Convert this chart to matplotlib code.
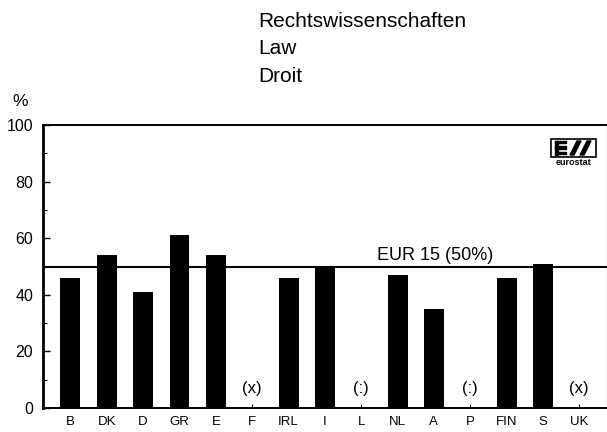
import numpy as np
import matplotlib
matplotlib.use("Agg")
import matplotlib.pyplot as plt
from matplotlib.patches import Rectangle, Polygon

plt.rcParams['font.family'] = ['Liberation Sans', 'DejaVu Sans']

# Data: share (%) per country; None = not available / not applicable
countries = ["B", "DK", "D", "GR", "E", "F", "IRL", "I", "L", "NL", "A", "P", "FIN", "S", "UK"]
values = [46, 54, 41, 61, 54, None, 46, 50, None, 47, 35, None, 46, 51, None]
flags = {"F": "(x)", "L": "(:)", "P": "(:)", "UK": "(x)"}
eu_average = 50
eu_label = "EUR 15 (50%)"
title_lines = ["Rechtswissenschaften", "Law", "Droit"]
y_ticks = [0, 20, 40, 60, 80, 100]

W, H = 607, 432
fig = plt.figure(figsize=(W / 100, H / 100), dpi=100)
ax = fig.add_axes([43 / W, 24 / H, 563.5 / W, 283 / H])

x = np.arange(len(countries))
heights = np.array([np.nan if v is None else v for v in values], dtype=float)
ax.bar(x, heights, width=0.55, color="black", zorder=2)

# EU average reference line
ax.axhline(eu_average, color="black", lw=1.5, zorder=3)
ax.text(8.43, eu_average + 2.2, eu_label, fontsize=13, ha="left", va="baseline")

# Flags for missing values
for i, c in enumerate(countries):
    if c in flags:
        ax.text(i, 7.0, flags[c], fontsize=12, ha="center", va="center")

ax.set_xlim(-0.756, 14.75)
ax.set_ylim(0, 100)
ax.set_xticks(x)
ax.set_xticklabels(countries, fontsize=9.5)
ax.set_yticks(y_ticks)
ax.set_yticklabels([str(t) for t in y_ticks], fontsize=11.5)
ax.set_yticks(np.arange(10, 100, 20), minor=True)
ax.tick_params(axis="y", which="major", direction="in", length=5, width=1, pad=7)
ax.tick_params(axis="y", which="minor", direction="in", length=3, width=0.8)
ax.tick_params(axis="x", which="major", direction="in", length=3, width=0.8, pad=6)

ax.spines["left"].set_linewidth(2.0)
for side in ["top", "bottom"]:
    ax.spines[side].set_linewidth(1.4)
ax.spines["right"].set_linewidth(0.8)

# Axis unit
fig.text(20 / W, 1 - 101 / H, "%", fontsize=12.5, ha="center", va="center")

# Title block
for k, line in enumerate(title_lines):
    fig.text(258 / W, 1 - (27 + 27.5 * k) / H, line, fontsize=15, ha="left", va="baseline")

# Eurostat logo (top right corner)
def px(xp, yp):
    return (xp / W, 1 - yp / H)

bx0, by0, bx1, by1 = 551, 139, 596, 157
fig.add_artist(Rectangle(px(bx0, by1), (bx1 - bx0) / W, (by1 - by0) / H,
                         transform=fig.transFigure, fill=False, lw=1.2, ec="black"))
# stylised "E"
for yy in (142, 147.5, 153):
    fig.add_artist(Polygon([px(555, yy - 1.3), px(566, yy - 1.3), px(566, yy + 1.3), px(555, yy + 1.3)],
                           closed=True, transform=fig.transFigure, color="black"))
fig.add_artist(Polygon([px(555, 141), px(558, 141), px(558, 154.5), px(555, 154.5)],
                       closed=True, transform=fig.transFigure, color="black"))
# slanted strokes
for x0 in (570, 580):
    fig.add_artist(Polygon([px(x0, 155), px(x0 + 4, 155), px(x0 + 11, 141), px(x0 + 7, 141)],
                           closed=True, transform=fig.transFigure, color="black"))
fig.text(573.5 / W, 1 - 162.5 / H, "eurostat", fontsize=6.5, fontweight="bold",
         ha="center", va="center")

fig.savefig("out.png", dpi=100)
